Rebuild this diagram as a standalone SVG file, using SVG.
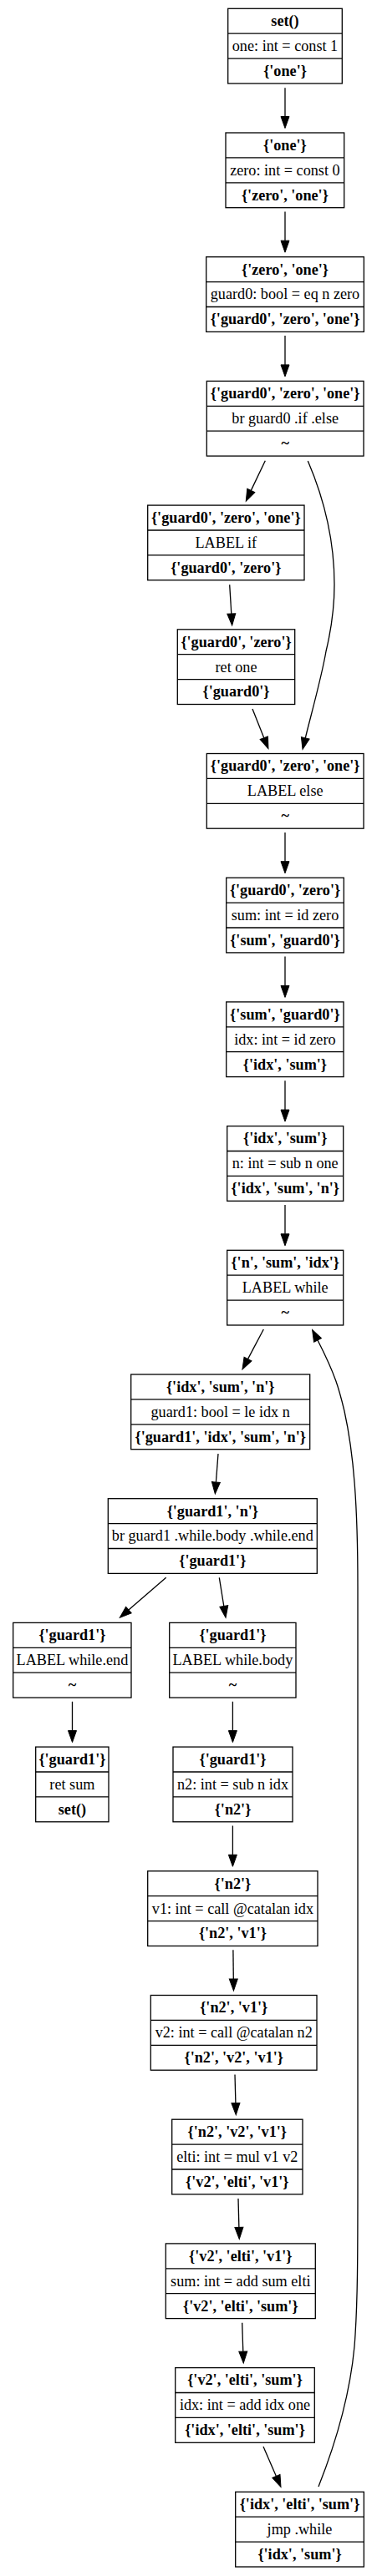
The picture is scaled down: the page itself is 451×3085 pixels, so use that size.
<svg xmlns="http://www.w3.org/2000/svg" width="451" height="3085" viewBox="0 0 451 3085">
<style>
.box{fill:#fff;stroke:#000;stroke-width:1.3}
.div{stroke:#000;stroke-width:1.3}
text{font-family:"Liberation Serif","Times New Roman",serif;font-size:18.2px;text-anchor:middle;fill:#000}
.b{font-weight:bold}
.e{fill:none;stroke:#000;stroke-width:1.3}
</style>
<defs>
<marker id="ah" markerUnits="userSpaceOnUse" markerWidth="14" markerHeight="10" refX="0" refY="5" orient="auto" overflow="visible">
<path d="M0,0 L14,5 L0,10 z" fill="#000" stroke="#000" stroke-width="1"/>
</marker>
</defs>
<rect width="451" height="3085" fill="#fff"/>
<g id="connectors">
<path class="e" marker-end="url(#ah)" d="M341,105.3 L341,139.5"/>
<path class="e" marker-end="url(#ah)" d="M341,253.4 L341,288.2"/>
<path class="e" marker-end="url(#ah)" d="M341,402.1 L341,436.9"/>
<path class="e" marker-end="url(#ah)" d="M317.3,551.7 L300.3,587.4"/>
<path class="e" marker-end="url(#ah)" d="M368.3,552 C388,598 400,650 400,700 C400,730 396,755 390,780 C385,810 371,860 365.3,883.8"/>
<path class="e" marker-end="url(#ah)" d="M274.7,700.3 L276.8,735"/>
<path class="e" marker-end="url(#ah)" d="M302,849 L315.8,883.7"/>
<path class="e" marker-end="url(#ah)" d="M341,996.9 L341,1031.7"/>
<path class="e" marker-end="url(#ah)" d="M341,1145.6 L341,1180.4"/>
<path class="e" marker-end="url(#ah)" d="M341,1294.3 L341,1329.1"/>
<path class="e" marker-end="url(#ah)" d="M341,1443 L341,1477.8"/>
<path class="e" marker-end="url(#ah)" d="M315.3,1592 L296.5,1627.6"/>
<path class="e" marker-end="url(#ah)" d="M261,1741 L258.4,1775"/>
<path class="e" marker-end="url(#ah)" d="M198.7,1889.3 L153.9,1928.1"/>
<path class="e" marker-end="url(#ah)" d="M262.3,1889.3 L267.8,1923.5"/>
<path class="e" marker-end="url(#ah)" d="M86.5,2037.8 L86.5,2072.6"/>
<path class="e" marker-end="url(#ah)" d="M278.4,2037.8 L278.4,2072.6"/>
<path class="e" marker-end="url(#ah)" d="M278.4,2186.5 L278.4,2221.3"/>
<path class="e" marker-end="url(#ah)" d="M278.9,2335.2 L279.3,2370"/>
<path class="e" marker-end="url(#ah)" d="M281,2484.4 L281.9,2518.7"/>
<path class="e" marker-end="url(#ah)" d="M285,2633.1 L285.9,2667.4"/>
<path class="e" marker-end="url(#ah)" d="M289.7,2781.8 L290.8,2816.1"/>
<path class="e" marker-end="url(#ah)" d="M315,2930 L330.4,2965.5"/>
<path class="e" marker-end="url(#ah)" d="M381,2978 C398,2935 418,2875 424,2810 C428,2760 428,2700 428,2600 L428,1900 C428,1800 423,1740 412,1690 C406,1665 402,1648 380,1605"/>
</g>
<g id="n0"><rect class="box" x="272.7" y="10.3" width="136.6" height="89.7"/><line class="div" x1="272.7" y1="40.2" x2="409.3" y2="40.2"/><line class="div" x1="272.7" y1="70.1" x2="409.3" y2="70.1"/><text class="b" x="341" y="31.1">set()</text><text x="341" y="61">one: int = const 1</text><text class="b" x="341" y="90.9">{'one'}</text></g>
<g id="n1"><rect class="box" x="270" y="159" width="141.7" height="89.7"/><line class="div" x1="270" y1="188.9" x2="411.7" y2="188.9"/><line class="div" x1="270" y1="218.8" x2="411.7" y2="218.8"/><text class="b" x="340.9" y="179.8">{'one'}</text><text x="340.9" y="209.7">zero: int = const 0</text><text class="b" x="340.9" y="239.6">{'zero', 'one'}</text></g>
<g id="n2"><rect class="box" x="246.7" y="307.7" width="188.6" height="89.7"/><line class="div" x1="246.7" y1="337.6" x2="435.3" y2="337.6"/><line class="div" x1="246.7" y1="367.5" x2="435.3" y2="367.5"/><text class="b" x="341" y="328.5">{'zero', 'one'}</text><text x="341" y="358.4">guard0: bool = eq n zero</text><text class="b" x="341" y="388.3">{'guard0', 'zero', 'one'}</text></g>
<g id="n3"><rect class="box" x="247.3" y="456.4" width="187.7" height="89.7"/><line class="div" x1="247.3" y1="486.3" x2="435" y2="486.3"/><line class="div" x1="247.3" y1="516.2" x2="435" y2="516.2"/><text class="b" x="341.2" y="477.2">{'guard0', 'zero', 'one'}</text><text x="341.2" y="507.1">br guard0 .if .else</text><text class="b" x="341.2" y="537">~</text></g>
<g id="n4"><rect class="box" x="176.7" y="605.1" width="187.3" height="89.7"/><line class="div" x1="176.7" y1="635" x2="364" y2="635"/><line class="div" x1="176.7" y1="664.9" x2="364" y2="664.9"/><text class="b" x="270.3" y="625.9">{'guard0', 'zero', 'one'}</text><text x="270.3" y="655.8">LABEL if</text><text class="b" x="270.3" y="685.7">{'guard0', 'zero'}</text></g>
<g id="n5"><rect class="box" x="212.3" y="753.8" width="140.4" height="89.7"/><line class="div" x1="212.3" y1="783.7" x2="352.7" y2="783.7"/><line class="div" x1="212.3" y1="813.6" x2="352.7" y2="813.6"/><text class="b" x="282.5" y="774.6">{'guard0', 'zero'}</text><text x="282.5" y="804.5">ret one</text><text class="b" x="282.5" y="834.4">{'guard0'}</text></g>
<g id="n6"><rect class="box" x="247.3" y="902.5" width="187.7" height="89.7"/><line class="div" x1="247.3" y1="932.4" x2="435" y2="932.4"/><line class="div" x1="247.3" y1="962.3" x2="435" y2="962.3"/><text class="b" x="341.2" y="923.3">{'guard0', 'zero', 'one'}</text><text x="341.2" y="953.2">LABEL else</text><text class="b" x="341.2" y="983.1">~</text></g>
<g id="n7"><rect class="box" x="270.7" y="1051.2" width="140.6" height="89.7"/><line class="div" x1="270.7" y1="1081.1" x2="411.3" y2="1081.1"/><line class="div" x1="270.7" y1="1111" x2="411.3" y2="1111"/><text class="b" x="341" y="1072">{'guard0', 'zero'}</text><text x="341" y="1101.9">sum: int = id zero</text><text class="b" x="341" y="1131.8">{'sum', 'guard0'}</text></g>
<g id="n8"><rect class="box" x="270.7" y="1199.9" width="140.3" height="89.7"/><line class="div" x1="270.7" y1="1229.8" x2="411" y2="1229.8"/><line class="div" x1="270.7" y1="1259.7" x2="411" y2="1259.7"/><text class="b" x="340.9" y="1220.7">{'sum', 'guard0'}</text><text x="340.9" y="1250.6">idx: int = id zero</text><text class="b" x="340.9" y="1280.5">{'idx', 'sum'}</text></g>
<g id="n9"><rect class="box" x="271.7" y="1348.6" width="139" height="89.7"/><line class="div" x1="271.7" y1="1378.5" x2="410.7" y2="1378.5"/><line class="div" x1="271.7" y1="1408.4" x2="410.7" y2="1408.4"/><text class="b" x="341.2" y="1369.4">{'idx', 'sum'}</text><text x="341.2" y="1399.3">n: int = sub n one</text><text class="b" x="341.2" y="1429.2">{'idx', 'sum', 'n'}</text></g>
<g id="n10"><rect class="box" x="271.7" y="1497.3" width="139" height="89.7"/><line class="div" x1="271.7" y1="1527.2" x2="410.7" y2="1527.2"/><line class="div" x1="271.7" y1="1557.1" x2="410.7" y2="1557.1"/><text class="b" x="341.2" y="1518.1">{'n', 'sum', 'idx'}</text><text x="341.2" y="1548">LABEL while</text><text class="b" x="341.2" y="1577.9">~</text></g>
<g id="n11"><rect class="box" x="156.7" y="1646" width="214" height="89.7"/><line class="div" x1="156.7" y1="1675.9" x2="370.7" y2="1675.9"/><line class="div" x1="156.7" y1="1705.8" x2="370.7" y2="1705.8"/><text class="b" x="263.7" y="1666.8">{'idx', 'sum', 'n'}</text><text x="263.7" y="1696.7">guard1: bool = le idx n</text><text class="b" x="263.7" y="1726.6">{'guard1', 'idx', 'sum', 'n'}</text></g>
<g id="n12"><rect class="box" x="129.3" y="1794.7" width="250" height="89.7"/><line class="div" x1="129.3" y1="1824.6" x2="379.3" y2="1824.6"/><line class="div" x1="129.3" y1="1854.5" x2="379.3" y2="1854.5"/><text class="b" x="254.3" y="1815.5">{'guard1', 'n'}</text><text x="254.3" y="1845.4">br guard1 .while.body .while.end</text><text class="b" x="254.3" y="1875.3">{'guard1'}</text></g>
<g id="n13"><rect class="box" x="15.7" y="1943.4" width="141.3" height="89.7"/><line class="div" x1="15.7" y1="1973.3" x2="157" y2="1973.3"/><line class="div" x1="15.7" y1="2003.2" x2="157" y2="2003.2"/><text class="b" x="86.4" y="1964.2">{'guard1'}</text><text x="86.4" y="1994.1">LABEL while.end</text><text class="b" x="86.4" y="2024">~</text></g>
<g id="n14"><rect class="box" x="202.7" y="1943.4" width="151.3" height="89.7"/><line class="div" x1="202.7" y1="1973.3" x2="354" y2="1973.3"/><line class="div" x1="202.7" y1="2003.2" x2="354" y2="2003.2"/><text class="b" x="278.4" y="1964.2">{'guard1'}</text><text x="278.4" y="1994.1">LABEL while.body</text><text class="b" x="278.4" y="2024">~</text></g>
<g id="n15"><rect class="box" x="42.7" y="2092.1" width="87.3" height="89.7"/><line class="div" x1="42.7" y1="2122" x2="130" y2="2122"/><line class="div" x1="42.7" y1="2151.9" x2="130" y2="2151.9"/><text class="b" x="86.4" y="2112.9">{'guard1'}</text><text x="86.4" y="2142.8">ret sum</text><text class="b" x="86.4" y="2172.7">set()</text></g>
<g id="n16"><rect class="box" x="207" y="2092.1" width="143" height="89.7"/><line class="div" x1="207" y1="2122" x2="350" y2="2122"/><line class="div" x1="207" y1="2151.9" x2="350" y2="2151.9"/><text class="b" x="278.5" y="2112.9">{'guard1'}</text><text x="278.5" y="2142.8">n2: int = sub n idx</text><text class="b" x="278.5" y="2172.7">{'n2'}</text></g>
<g id="n17"><rect class="box" x="176.7" y="2240.8" width="203.3" height="89.7"/><line class="div" x1="176.7" y1="2270.7" x2="380" y2="2270.7"/><line class="div" x1="176.7" y1="2300.6" x2="380" y2="2300.6"/><text class="b" x="278.4" y="2261.6">{'n2'}</text><text x="278.4" y="2291.5">v1: int = call @catalan idx</text><text class="b" x="278.4" y="2321.4">{'n2', 'v1'}</text></g>
<g id="n18"><rect class="box" x="180.3" y="2389.5" width="198.7" height="89.7"/><line class="div" x1="180.3" y1="2419.4" x2="379" y2="2419.4"/><line class="div" x1="180.3" y1="2449.3" x2="379" y2="2449.3"/><text class="b" x="279.7" y="2410.3">{'n2', 'v1'}</text><text x="279.7" y="2440.2">v2: int = call @catalan n2</text><text class="b" x="279.7" y="2470.1">{'n2', 'v2', 'v1'}</text></g>
<g id="n19"><rect class="box" x="205.7" y="2538.2" width="156.3" height="89.7"/><line class="div" x1="205.7" y1="2568.1" x2="362" y2="2568.1"/><line class="div" x1="205.7" y1="2598" x2="362" y2="2598"/><text class="b" x="283.8" y="2559">{'n2', 'v2', 'v1'}</text><text x="283.8" y="2588.9">elti: int = mul v1 v2</text><text class="b" x="283.8" y="2618.8">{'v2', 'elti', 'v1'}</text></g>
<g id="n20"><rect class="box" x="198.3" y="2686.9" width="179" height="89.7"/><line class="div" x1="198.3" y1="2716.8" x2="377.3" y2="2716.8"/><line class="div" x1="198.3" y1="2746.7" x2="377.3" y2="2746.7"/><text class="b" x="287.8" y="2707.7">{'v2', 'elti', 'v1'}</text><text x="287.8" y="2737.6">sum: int = add sum elti</text><text class="b" x="287.8" y="2767.5">{'v2', 'elti', 'sum'}</text></g>
<g id="n21"><rect class="box" x="209.7" y="2835.6" width="166.6" height="89.7"/><line class="div" x1="209.7" y1="2865.5" x2="376.3" y2="2865.5"/><line class="div" x1="209.7" y1="2895.4" x2="376.3" y2="2895.4"/><text class="b" x="293" y="2856.4">{'v2', 'elti', 'sum'}</text><text x="293" y="2886.3">idx: int = add idx one</text><text class="b" x="293" y="2916.2">{'idx', 'elti', 'sum'}</text></g>
<g id="n22"><rect class="box" x="281.7" y="2984.3" width="153.6" height="89.7"/><line class="div" x1="281.7" y1="3014.2" x2="435.3" y2="3014.2"/><line class="div" x1="281.7" y1="3044.1" x2="435.3" y2="3044.1"/><text class="b" x="358.5" y="3005.1">{'idx', 'elti', 'sum'}</text><text x="358.5" y="3035">jmp .while</text><text class="b" x="358.5" y="3064.9">{'idx', 'sum'}</text></g>
</svg>
